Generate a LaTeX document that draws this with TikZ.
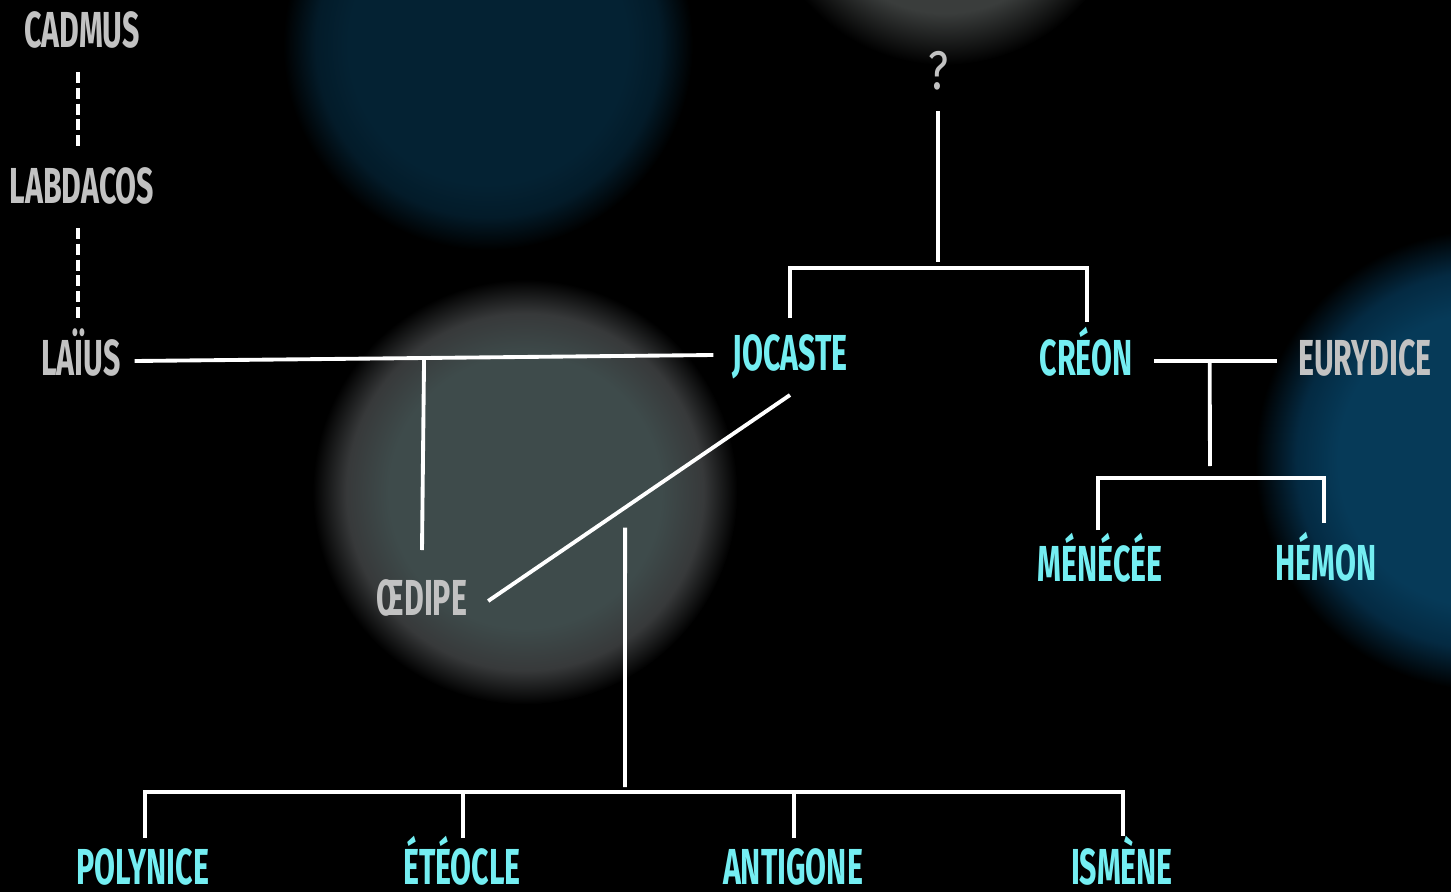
\documentclass[tikz,border=0pt]{standalone}
\usepackage{fontspec}
\usepackage{tikz}
\usetikzlibrary{calc}

\newfontfamily\namefont[FakeStretch=0.6]{Fira Sans}
\newfontfamily\markfont[FakeStretch=0.8]{Fira Sans}

\definecolor{kincyan}{HTML}{74EEF2}
\definecolor{othergrey}{HTML}{C2C2C2}
\definecolor{bkmid}{HTML}{3E4B4B}
\definecolor{bkmidedge}{HTML}{37393A}
\definecolor{bktop}{HTML}{3A3D3C}
\definecolor{bkblue}{HTML}{042233}
\definecolor{bkblueedge}{HTML}{031B29}
\definecolor{bkright}{HTML}{063A58}
\definecolor{bkrightedge}{HTML}{042A42}

% soft discs for the bokeh background
\pgfdeclareradialshading{bokehmid}{\pgfpointorigin}{color(0bp)=(bkmid); color(16bp)=(bkmid); color(21bp)=(bkmidedge); color(25bp)=(black); color(50bp)=(black)}
\pgfdeclareradialshading{bokehtop}{\pgfpointorigin}{color(0bp)=(bktop); color(18bp)=(bktop); color(25bp)=(black); color(50bp)=(black)}
\pgfdeclareradialshading{bokehblue}{\pgfpointorigin}{color(0bp)=(bkblue); color(17bp)=(bkblue); color(21bp)=(bkblueedge); color(25bp)=(black); color(50bp)=(black)}
\pgfdeclareradialshading{bokehright}{\pgfpointorigin}{color(0bp)=(bkright); color(16bp)=(bkright); color(20.5bp)=(bkrightedge); color(25bp)=(black); color(50bp)=(black)}

\begin{document}
\begin{tikzpicture}[x=0.02cm, y=-0.02cm]
	\tikzstyle{person}=[inner sep=0, outer sep=0, anchor=base, text height=0.7cm, text depth=0pt,
		font=\namefont\bfseries\fontsize{28.8}{30}\selectfont]
	\tikzstyle{kin}=[person, text=kincyan]
	\tikzstyle{other}=[person, text=othergrey]
	\tikzstyle{link}=[draw=white, line width=2.2pt]
	\tikzstyle{lineage}=[link, dash pattern=on 6.2pt off 2.8pt]

	\useasboundingbox (0,0) rectangle (1451,892);
	\clip (0,0) rectangle (1451,892);
	\fill[black] (0,0) rectangle (1451,892);

	\shade[shading=bokehblue] (488,45) circle [radius=4.1cm];
	\shade[shading=bokehtop] (945,-120) circle [radius=3.7cm];
	\shade[shading=bokehmid] (525,492) circle [radius=4.25cm];
	\shade[shading=bokehright] (1485,460) circle [radius=4.6cm];

	% Labdacides
	\node[other](cadmus) at (82,48){CADMUS};
	\node[other](labdacos) at (82,203){LABDACOS};
	\node[other](laius) at (81,375){LAÏUS};
	\node[other](oedipe) at (422,615){ŒDIPE};

	\node[inner sep=0, anchor=base, text=othergrey, font=\markfont\fontsize{31}{32}\selectfont](q) at (938,90){?};
	\node[kin](jocaste) at (790,370){JOCASTE};
	\node[kin](creon) at (1086,375){CRÉON};
	\node[other](eurydice) at (1365,375){EURYDICE};

	\node[kin](menecee) at (1100,581){MÉNÉCÉE};
	\node[kin](hemon) at (1326,580){HÉMON};

	\node[kin](polynice) at (143,884){POLYNICE};
	\node[kin](eteocle) at (462,884){ÉTÉOCLE};
	\node[kin](antigone) at (793,884){ANTIGONE};
	\node[kin](ismene) at (1122,884){ISMÈNE};

	\draw[lineage] ($(cadmus.south)+(-4,24)$) -- ($(labdacos.north)+(-4,-21)$);
	\draw[lineage] ($(labdacos.south)+(-4,25)$) -- ($(laius.north)+(-3,-22)$);

	% Laïus et Jocaste
	\draw[link] ($(laius.east)+(14,3.5)$) -- coordinate[pos=0.5](lj) ($(jocaste.west)+(-19,2.5)$);
	\draw[link] (lj) -- ($(oedipe.north)+(0,-30)$);

	% Œdipe et Jocaste
	\draw[link] ($(oedipe.east)+(21,3.5)$) -- coordinate[pos=0.4536](oj) ($(jocaste.south)+(0,25)$);
	\coordinate (kids) at (625,792);
	\draw[link] ($(oj)+(0,20)$) -- ($(kids)+(0,-5)$);
	\draw[link] ($(polynice.north)+(2,-11)$) |- (kids) -| ($(ismene.north)+(1,-13)$);
	\draw[link] ($(eteocle.north)+(1,-11)$) -- ($(eteocle.north |- kids)+(1,0)$);
	\draw[link] ($(antigone.north)+(1,-11)$) -- ($(antigone.north |- kids)+(1,0)$);

	% Jocaste et Créon
	\coordinate (sib) at (938,268);
	\draw[link] ($(q.south)+(0,20)$) -- ($(sib)+(0,-6)$);
	\draw[link] ($(jocaste.north)+(0,-17)$) |- (sib) -| ($(creon.north)+(1,-18)$);

	% Créon et Eurydice
	\draw[link] ($(creon.east)+(22,3.5)$) -- coordinate[pos=0.45](ce) ($(eurydice.west)+(-21,3.5)$);
	\coordinate (cekids) at (1210,478);
	\draw[link] (ce) -- ($(cekids)+(0,-12)$);
	\draw[link] ($(menecee.north)+(-2,-16)$) |- (cekids) -| ($(hemon.north)+(-2,-22)$);
\end{tikzpicture}
\end{document}
